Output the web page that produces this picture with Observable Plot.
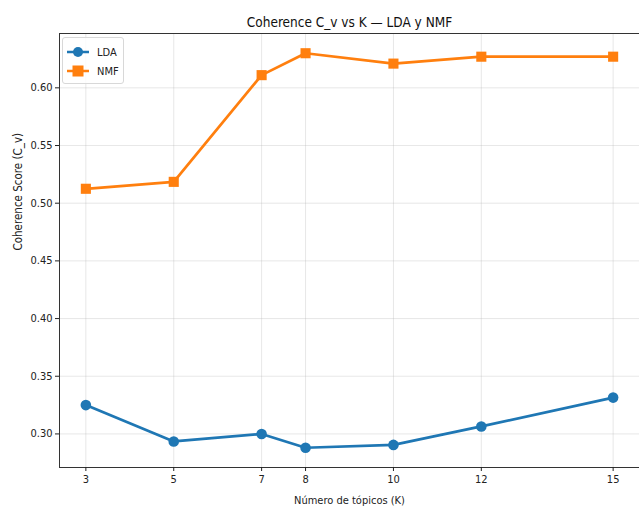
<!DOCTYPE html>
<html><head><meta charset="utf-8">
<script src="https://cdn.jsdelivr.net/npm/d3@7"></script>
<script src="https://cdn.jsdelivr.net/npm/@observablehq/plot@0.6"></script>
<style>
body{margin:0;background:#fff;}
#wrap{position:relative;width:639px;height:510px;font-family:"DejaVu Sans Condensed","DejaVu Sans",sans-serif;font-stretch:condensed;}
#legend{position:absolute;left:62px;top:37px;width:60px;height:45px;border:1px solid #d8d8d8;border-radius:3px;background:rgba(255,255,255,0.8);font-size:11px;color:#222;}
.row{position:absolute;left:4px;height:16px;display:flex;align-items:center;}
.row span{margin-left:8px;}
</style></head>
<body><div id="wrap"><div id="legend"></div></div>
<script>
const ks = [3, 5, 7, 8, 10, 12, 15];
const ldaScores = [0.325, 0.2935, 0.300, 0.288, 0.2905, 0.3065, 0.3315];
const nmfScores = [0.5125, 0.5185, 0.611, 0.630, 0.621, 0.627, 0.627];
const yTicks = [0.30, 0.35, 0.40, 0.45, 0.50, 0.55, 0.60];
const titleText = "Coherence C_v vs K — LDA y NMF";
const xLabel = "Número de tópicos (K)";
const yLabel = "Coherence Score (C_v)";
const seriesNames = ["LDA", "NMF"];
const colors = {LDA: "#1f77b4", NMF: "#ff7f0e"};

const lda = ks.map((k, i) => ({k, v: ldaScores[i], s: "LDA"}));
const nmf = ks.map((k, i) => ({k, v: nmfScores[i], s: "NMF"}));
const allV = ldaScores.concat(nmfScores);
const ymin = d3.min(allV), ymax = d3.max(allV), pad = (ymax - ymin) * 0.05;
const xpad = (d3.max(ks) - d3.min(ks)) * 0.05;

const chart = Plot.plot({
  width: 639, height: 510,
  marginLeft: 59, marginRight: 0, marginTop: 33, marginBottom: 43,
  style: {fontFamily: '"DejaVu Sans Condensed","DejaVu Sans",sans-serif', fontSize: "11px", color: "#222", background: "#fff"},
  x: {domain: [d3.min(ks) - xpad, d3.max(ks) + xpad], ticks: ks, tickFormat: d => String(d), label: null},
  y: {domain: [ymin - pad, ymax + pad], ticks: yTicks, tickFormat: d3.format(".2f"), label: null},
  marks: [
    Plot.gridX(ks, {stroke: "#b0b0b0", strokeOpacity: 0.3}),
    Plot.gridY(yTicks, {stroke: "#b0b0b0", strokeOpacity: 0.3}),
    Plot.frame({stroke: "#333", strokeWidth: 1}),
    Plot.axisX({ticks: ks, tickSize: 4, tickPadding: 4, tickFormat: d => String(d), label: null}),
    Plot.axisY({ticks: yTicks, tickSize: 4, tickPadding: 3, tickFormat: d3.format(".2f"), label: null}),
    Plot.line(lda, {x: "k", y: "v", stroke: colors.LDA, strokeWidth: 2.7}),
    Plot.dot(lda, {x: "k", y: "v", fill: colors.LDA, r: 5.3, symbol: "circle"}),
    Plot.line(nmf, {x: "k", y: "v", stroke: colors.NMF, strokeWidth: 2.7}),
    Plot.dot(nmf, {x: "k", y: "v", fill: colors.NMF, r: 5.7, symbol: "square"}),
    Plot.text([titleText], {frameAnchor: "top", dy: -16, fontSize: 13.5, fill: "#111", text: d => d}),
    Plot.text([xLabel], {frameAnchor: "bottom", dy: 36, fontSize: 11, fill: "#222", text: d => d}),
    Plot.text([yLabel], {frameAnchor: "left", dx: -41, rotate: -90, fontSize: 11.5, fill: "#222", text: d => d})
  ]
});
const wrap = document.getElementById("wrap");
wrap.insertBefore(chart, wrap.firstChild);

const legend = document.getElementById("legend");
seriesNames.forEach((name, i) => {
  const row = document.createElement("div");
  row.className = "row";
  row.style.top = (6 + i * 19) + "px";
  const sym = name === "LDA"
    ? `<circle cx="11" cy="6" r="5" fill="${colors[name]}"/>`
    : `<rect x="5.5" y="0.5" width="11" height="11" fill="${colors[name]}"/>`;
  row.innerHTML = `<svg width="22" height="12"><line x1="0" x2="22" y1="6" y2="6" stroke="${colors[name]}" stroke-width="2.5"/>${sym}</svg><span>${name}</span>`;
  legend.appendChild(row);
});
</script></body></html>
